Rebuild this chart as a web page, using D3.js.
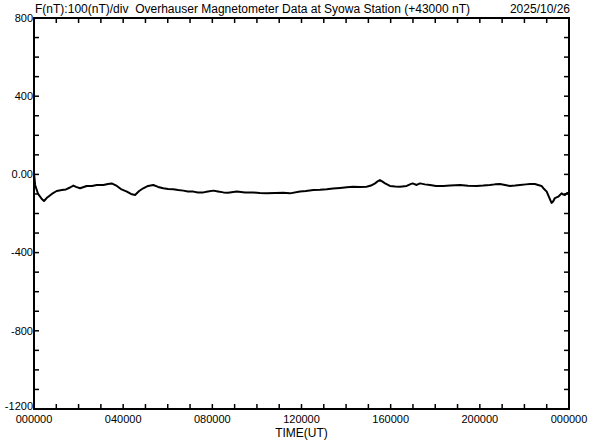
<!DOCTYPE html>
<html><head><meta charset="utf-8">
<script src="https://cdn.jsdelivr.net/npm/d3@7/dist/d3.min.js"></script>
<style>body{margin:0;background:#fff}svg{display:block}text{font-family:"Liberation Sans",Arial,sans-serif;fill:#000;white-space:pre}</style>
</head><body>
<script>
// time in minutes from 00:00 UT
const timeMin = [0,3,11,21,27,34,48,61,75,86,97,106,113,124,142,156,169,187,199,209,223,234,250,261,272,283,294,307,321,334,348,361,375,388,402,414,429,441,456,468,483,495,510,522,546,568,590,608,626,649,671,689,716,732,752,770,788,805,824,842,859,877,895,907,918,926,931,938,945,958,972,985,1003,1012,1019,1030,1039,1052,1066,1082,1102,1120,1147,1168,1192,1209,1227,1241,1254,1268,1281,1295,1308,1324,1335,1348,1357,1366,1373,1380,1386,1393,1398,1402,1411,1420,1425,1429,1435,1440];
// F minus 43000 nT
const fValue = [7,-54,-100,-126,-136,-121,-100,-85,-80,-77,-67,-57,-64,-71,-59,-59,-54,-54,-49,-46,-59,-75,-88,-100,-105,-85,-71,-59,-54,-64,-71,-75,-76,-80,-83,-87,-88,-93,-92,-87,-83,-87,-92,-94,-88,-92,-92,-95,-97,-95,-94,-97,-88,-85,-80,-79,-76,-72,-69,-66,-63,-64,-63,-57,-46,-34,-29,-37,-46,-59,-62,-63,-59,-51,-46,-54,-46,-51,-54,-59,-59,-57,-54,-58,-59,-57,-54,-51,-49,-54,-59,-57,-54,-51,-49,-49,-54,-59,-75,-88,-115,-146,-136,-121,-114,-97,-103,-105,-95,-100];
const yTickValues = [800,400,0,-400,-800,-1200];
const yTickLabels = ["800","400","0.00","-400","-800","-1200"];
const xTickValues = [0,240,480,720,960,1200,1440];
const xTickLabels = ["000000","040000","080000","120000","160000","200000","000000"];
const titleText = "F(nT):100(nT)/div  Overhauser Magnetometer Data at Syowa Station (+43000 nT)";
const dateText = "2025/10/26";
const xLabel = "TIME(UT)";

const W=592,H=440;
const m={l:34,r:23,t:18,b:31};
const svg=d3.select("body").append("svg").attr("width",W).attr("height",H);
const x=d3.scaleLinear().domain([0,1440]).range([m.l,W-m.r]);
const y=d3.scaleLinear().domain([-1200,800]).range([H-m.b,m.t]);

// minor ticks
const yMinor=d3.range(-1200,801,100);
const xMinor=d3.range(0,1441,60);
const g=svg.append("g").attr("stroke","#000").attr("stroke-width",1.5);
yMinor.forEach(v=>{
  g.append("line").attr("x1",x(0)).attr("x2",x(0)+5).attr("y1",y(v)).attr("y2",y(v));
  g.append("line").attr("x1",x(1440)).attr("x2",x(1440)-5).attr("y1",y(v)).attr("y2",y(v));
});
xMinor.forEach(v=>{
  g.append("line").attr("x1",x(v)).attr("x2",x(v)).attr("y1",y(-1200)).attr("y2",y(-1200)-5);
  g.append("line").attr("x1",x(v)).attr("x2",x(v)).attr("y1",y(800)).attr("y2",y(800)+5);
});

// data line
const pts=timeMin.map((t,i)=>[t,fValue[i]]);
svg.append("path").datum(pts)
  .attr("fill","none").attr("stroke","#000").attr("stroke-width",2).attr("stroke-linejoin","round")
  .attr("d",d3.line().x(d=>x(d[0])).y(d=>y(d[1])));

// frame
svg.append("rect").attr("x",x(0)).attr("y",y(800)).attr("width",x(1440)-x(0)).attr("height",y(-1200)-y(800))
  .attr("fill","none").attr("stroke","#000").attr("stroke-width",2);

// y labels
yTickValues.forEach((v,i)=>{
  svg.append("text").attr("x",x(0)-1).attr("y",y(v)-(v===-1200?3:0)).attr("dy","0.35em").attr("text-anchor","end")
    .attr("font-size",11).text(yTickLabels[i]);
});
// x labels
xTickValues.forEach((v,i)=>{
  svg.append("text").attr("x",x(v)).attr("y",y(-1200)+14).attr("text-anchor","middle")
    .attr("font-size",11).text(xTickLabels[i]);
});
svg.append("text").attr("x",x(720)).attr("y",H-3).attr("text-anchor","middle").attr("font-size",12).text(xLabel);
svg.append("text").attr("x",35).attr("y",13).attr("font-size",12)
  .attr("textLength",435).attr("lengthAdjust","spacingAndGlyphs").text(titleText);
svg.append("text").attr("x",570).attr("y",13).attr("font-size",12).attr("text-anchor","end").text(dateText);
</script>
</body></html>
